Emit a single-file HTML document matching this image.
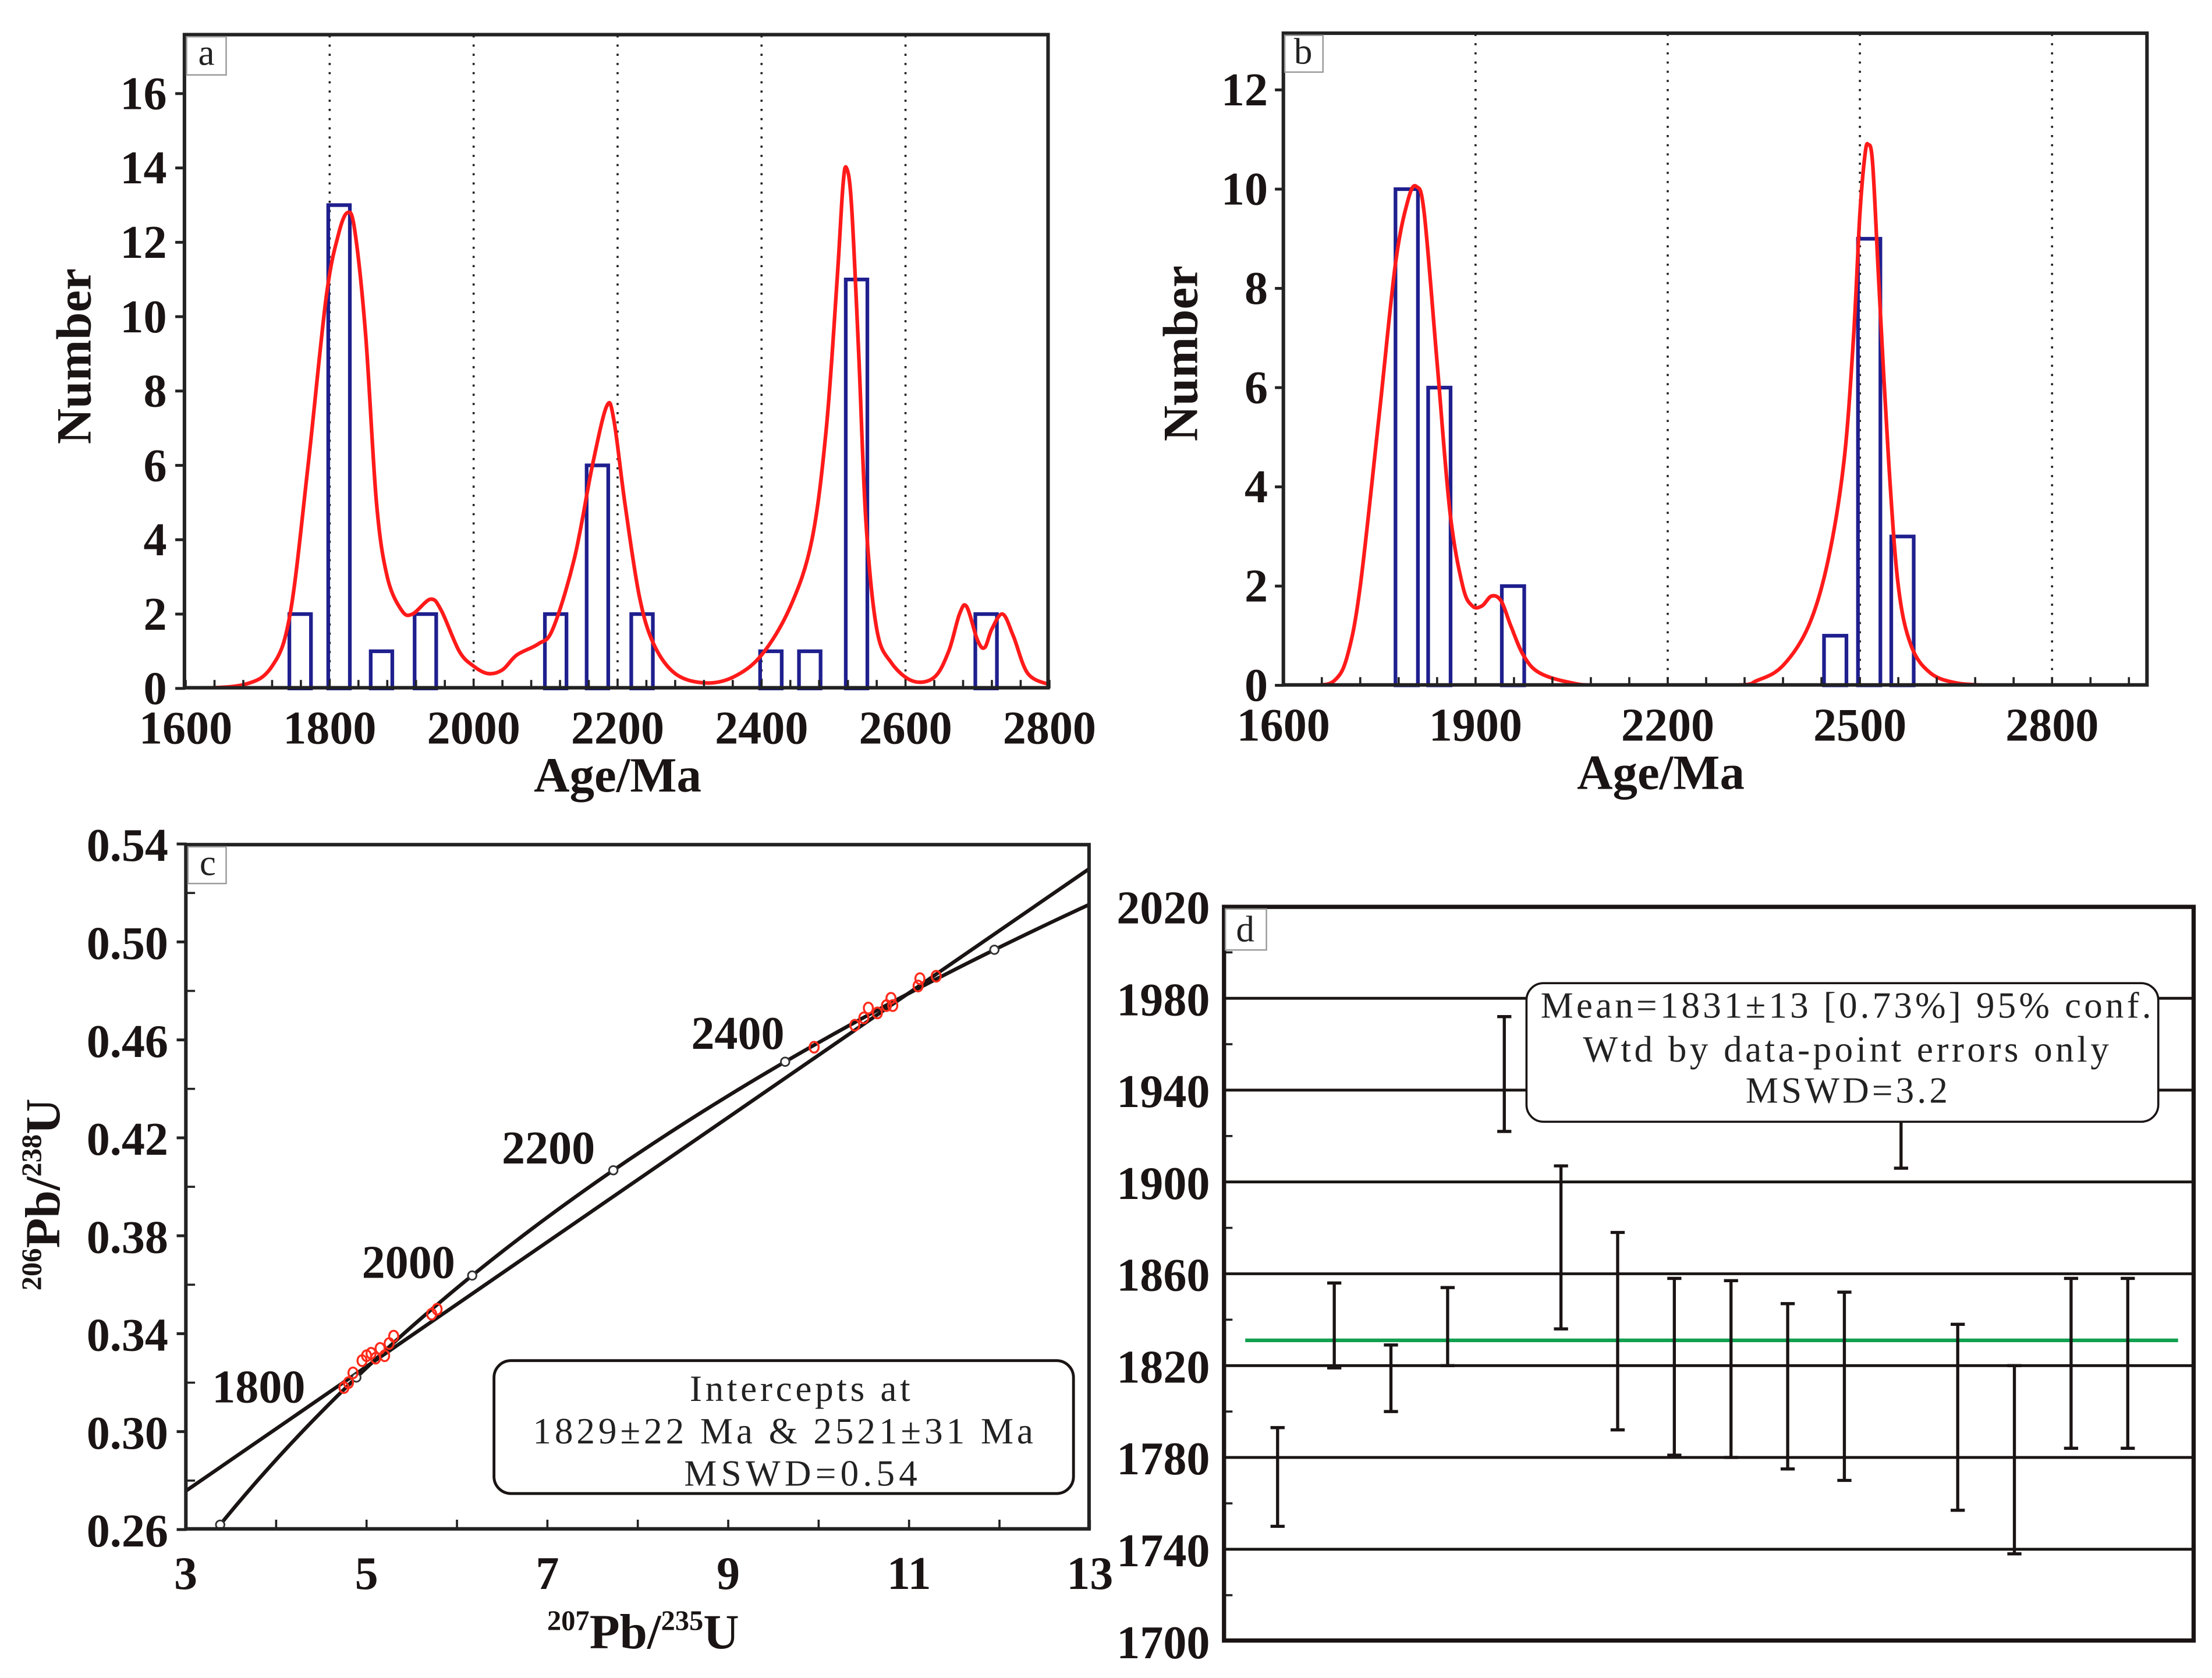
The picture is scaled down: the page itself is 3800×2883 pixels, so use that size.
<!DOCTYPE html>
<html><head><meta charset="utf-8">
<style>
html,body{margin:0;padding:0;background:#fff;}
svg{display:block;}
text{font-family:"Liberation Serif",serif;}
.tl{font-weight:bold;font-size:33px;fill:#1a1414;}
.at{font-weight:bold;font-size:35px;fill:#1a1414;}
.bx{font-size:26px;fill:#222;}
</style></head>
<body>
<svg id="fig" width="3800" height="2883" viewBox="0 0 1565 1187" preserveAspectRatio="none" xmlns="http://www.w3.org/2000/svg">
<defs>
<clipPath id="clipA"><rect x="131" y="24" width="611" height="463"/></clipPath>
<clipPath id="clipB"><rect x="908" y="23" width="611" height="462"/></clipPath>
<clipPath id="clipC"><rect x="131" y="597" width="640" height="485"/></clipPath>
</defs>
</svg>
<script>
// ---------- Panel a data ----------
const aBinStarts = [1744,1798,1857,1918,2099,2157,2219,2398,2452,2517,2697];
const aBinCounts = [2,13,1,2,2,6,2,1,1,11,2];
const aCurveAges = [1600,1680,1720,1745,1770,1795,1812,1825,1835,1850,1865,1880,1900,1915,1940,1955,1980,2000,2020,2040,2060,2090,2110,2140,2165,2185,2195,2210,2230,2250,2280,2320,2360,2400,2440,2470,2490,2505,2513,2518,2525,2535,2545,2560,2580,2610,2640,2660,2675,2685,2700,2710,2720,2735,2750,2770,2800];
const aCurveVals = [0,0.1,0.6,2,6,10.5,12.2,12.8,12.3,9.5,5,3,2.1,2.0,2.4,2.1,1.0,0.6,0.4,0.5,0.9,1.2,1.6,3.5,6,7.6,7.2,5,2.5,1.2,0.4,0.15,0.3,0.9,2.2,4,7,11,13.5,14,13,9,4.5,1.6,0.7,0.2,0.3,1.0,2.0,2.2,1.3,1.1,1.6,2.0,1.4,0.4,0.1];
const aYTicks = [0,2,4,6,8,10,12,14,16];
const aXTicks = [1600,1800,2000,2200,2400,2600,2800];
const aDotted = [1800,2000,2200,2400,2600];
// ---------- Panel b data ----------
const bBinStarts = [1775,1826,1941,2444,2497,2549];
const bBinCounts = [10,6,2,1,9,3];
const bCurveAges = [1600,1650,1680,1700,1720,1750,1775,1795,1808,1820,1840,1860,1880,1895,1910,1925,1940,1955,1975,2000,2050,2100,2300,2340,2380,2420,2450,2475,2490,2500,2508,2513,2520,2530,2545,2560,2580,2610,2650,2700];
const bCurveVals = [0,0,0.1,0.6,2,5.5,8.5,9.8,10.05,9.5,6.5,3.5,2.0,1.6,1.6,1.8,1.7,1.2,0.6,0.25,0.05,0,0,0.1,0.4,1.2,2.5,4.5,7,9.5,10.7,10.9,10.5,8,4.5,2,0.8,0.25,0.05,0];
const bYTicks = [0,2,4,6,8,10,12];
const bXTicks = [1600,1900,2200,2500,2800];
const bDotted = [1900,2200,2500,2800];
// ---------- Panel c data ----------
const cPointsX = [4.75,4.8,4.85,4.95,5.0,5.05,5.1,5.15,5.2,5.25,5.3,5.72,5.78,9.95,10.4,10.5,10.55,10.65,10.75,10.8,10.82,11.1,11.12,11.3];
const cPointsY = [0.318,0.320,0.324,0.329,0.331,0.332,0.330,0.334,0.331,0.336,0.339,0.348,0.350,0.457,0.466,0.469,0.473,0.471,0.474,0.477,0.474,0.482,0.485,0.486];
const cInterceptAges = [1829,2521];
const cMarkerAges = [1500,1800,2000,2200,2400,2600];
const cLabelAges = ["1800","2000","2200","2400"];
const cYTicks = ["0.26","0.30","0.34","0.38","0.42","0.46","0.50","0.54"];
const cXTicks = [3,5,7,9,11,13];
// ---------- Panel d data ----------
const dLow  = [1750,1819,1800,1820,1922,1836,1792,1781,1780,1775,1770,1906,1757,1738,1784,1784];
const dHigh = [1793,1856,1829,1854,1972,1907,1878,1858,1857,1847,1852,1960,1838,1820,1858,1858];
const dMean = [1831];
const dYTicks = [1700,1740,1780,1820,1860,1900,1940,1980,2020];

const NS = "http://www.w3.org/2000/svg";
const svg = document.getElementById('fig');
function el(tag, attrs, parent){
  const e = document.createElementNS(NS, tag);
  for (const k in attrs) e.setAttribute(k, attrs[k]);
  (parent||svg).appendChild(e);
  return e;
}
function txt(s, x, y, cls, anchor, parent){
  const t = el('text', {x:x, y:y, class:cls, 'text-anchor':anchor||'middle'}, parent);
  t.textContent = s;
  return t;
}
function smooth(pts){
  let d = "M" + pts[0][0] + "," + pts[0][1];
  for (let i=0;i<pts.length-1;i++){
    const p0=pts[Math.max(0,i-1)], p1=pts[i], p2=pts[i+1], p3=pts[Math.min(pts.length-1,i+2)];
    const c1x=p1[0]+(p2[0]-p0[0])/6, c1y=p1[1]+(p2[1]-p0[1])/6;
    const c2x=p2[0]-(p3[0]-p1[0])/6, c2y=p2[1]-(p3[1]-p1[1])/6;
    d += " C"+c1x+","+c1y+" "+c2x+","+c2y+" "+p2[0]+","+p2[1];
  }
  return d;
}

// ===== Panel a =====
const xa = v => 131.4 + (v-1600)/1200*611.1;
const ya = v => 487 - v*26.3;
const gA = el('g', {});


aDotted.forEach(v=>{
  const l = el('line',{x1:xa(v),x2:xa(v),y1:25,y2:486,stroke:'#222','stroke-width':1.5,'stroke-dasharray':'1.5,5'},gA);
  
  
});
aBinStarts.forEach((s,i)=>{
  const r = el('rect',{x:xa(s),y:ya(aBinCounts[i]),width:xa(s+30)-xa(s),height:ya(0)-ya(aBinCounts[i]),fill:'none',stroke:'#1f1f8f','stroke-width':2.6},gA);
  
  
});
const pa = el('path',{d:smooth(aCurveAges.map((a,i)=>[xa(a),ya(aCurveVals[i])])),fill:'none',stroke:'#ff1a1a','stroke-width':2.6,'clip-path':'url(#clipA)'},gA);


el('rect',{x:130.5,y:24.5,width:611,height:462,fill:'none',stroke:'#222','stroke-width':2.5},gA);
for(let v=1600; v<=2800; v+=40){ el('line',{x1:xa(v),x2:xa(v),y1:487,y2:481,stroke:'#222','stroke-width':1.5},gA); }
aYTicks.forEach(v=>{
  el('line',{x1:124,x2:131,y1:ya(v),y2:ya(v),stroke:'#222','stroke-width':2},gA);
  const t = txt(String(v),118,ya(v)+11,'tl','end',gA);
  
  
});
aXTicks.forEach(v=>{
  const t = txt(String(v),xa(v),526,'tl','middle',gA);
  
  
});
el('rect',{x:132,y:26,width:28,height:27,fill:'#fff',stroke:'#999','stroke-width':1},gA);
txt('a',146,46,'bx','middle',gA);
const ta1 = txt('Age/Ma',437,560,'at','middle',gA);


const ta2 = txt('Number',0,0,'at','middle',gA);
ta2.setAttribute('transform','translate(64,252) rotate(-90)');



// ===== Panel b =====
const xb = v => 908 + (v-1600)*0.4532;
const yb = v => 484.8 - v*35.1;
const gB = el('g', {});


bDotted.forEach(v=>{
  const l = el('line',{x1:xb(v),x2:xb(v),y1:24,y2:484,stroke:'#222','stroke-width':1.5,'stroke-dasharray':'1.5,5'},gB);
  
  
});
bBinStarts.forEach((s,i)=>{
  const r = el('rect',{x:xb(s),y:yb(bBinCounts[i]),width:xb(s+35)-xb(s),height:yb(0)-yb(bBinCounts[i]),fill:'none',stroke:'#1f1f8f','stroke-width':2.6},gB);
  
  
});
const pb = el('path',{d:smooth(bCurveAges.map((a,i)=>[xb(a),yb(bCurveVals[i])])),fill:'none',stroke:'#ff1a1a','stroke-width':2.6,'clip-path':'url(#clipB)'},gB);


el('rect',{x:908,y:23.5,width:611,height:461,fill:'none',stroke:'#222','stroke-width':2.5},gB);
for(let v=1600; v<=2920; v+=60){ el('line',{x1:xb(v),x2:xb(v),y1:485,y2:479,stroke:'#222','stroke-width':1.5},gB); }
bYTicks.forEach(v=>{
  el('line',{x1:902,x2:908,y1:yb(v),y2:yb(v),stroke:'#222','stroke-width':2},gB);
  const t = txt(String(v),897,yb(v)+11,'tl','end',gB);
  
  
});
bXTicks.forEach(v=>{
  const t = txt(String(v),xb(v),524,'tl','middle',gB);
  
  
});
el('rect',{x:909,y:25,width:27,height:26,fill:'#fff',stroke:'#999','stroke-width':1},gB);
txt('b',922,45,'bx','middle',gB);
const tb1 = txt('Age/Ma',1175,558,'at','middle',gB);


const tb2 = txt('Number',0,0,'at','middle',gB);
tb2.setAttribute('transform','translate(847,250) rotate(-90)');



// ===== Panel c =====
const xc = v => 131.4 + (v-3)*63.97;
const yc = v => 1082 - (v-0.26)*1732;
const L238 = 1.55125e-4, L235 = 9.8485e-4; // per Ma
const r206 = t => Math.exp(L238*t)-1;
const r207 = t => Math.exp(L235*t)-1;
const gC = el('g', {});


const conc = [];
for(let t=1450; t<=2750; t+=10){ conc.push([xc(r207(t)), yc(r206(t))]); }
const pc = el('path',{d:smooth(conc),fill:'none',stroke:'#1a1414','stroke-width':2.6,'clip-path':'url(#clipC)'},gC);


const ix1=r207(cInterceptAges[0]), iy1=r206(cInterceptAges[0]), ix2=r207(cInterceptAges[1]), iy2=r206(cInterceptAges[1]);
const slope=(iy2-iy1)/(ix2-ix1);
const disc = el('line',{x1:xc(3),y1:yc(iy1+(3-ix1)*slope),x2:xc(13),y2:yc(iy1+(13-ix1)*slope),stroke:'#1a1414','stroke-width':2.6,'clip-path':'url(#clipC)'},gC);


cMarkerAges.forEach(t=>{
  const m = el('circle',{cx:xc(r207(t)),cy:yc(r206(t)),r:3,fill:'#fff',stroke:'#333','stroke-width':1.2,'clip-path':'url(#clipC)'},gC);
  
  
});
cPointsX.forEach((x,i)=>{
  const p = el('ellipse',{cx:xc(x),cy:yc(cPointsY[i]),rx:3.2,ry:3.8,fill:'none',stroke:'#ff2a1a','stroke-width':1.4},gC);
  
  
});
const cLabPos = [[183,992],[289,904],[388,823],[522,742]];
cLabelAges.forEach((s,i)=>{
  const t = txt(s,cLabPos[i][0],cLabPos[i][1],'tl','middle',gC);
  
  
});
el('rect',{x:131.5,y:597.5,width:639,height:484,fill:'none',stroke:'#222','stroke-width':2.5},gC);
for(let v=0.28; v<0.54; v+=0.04){ el('line',{x1:132,x2:138,y1:yc(v),y2:yc(v),stroke:'#222','stroke-width':1.5},gC); }
cYTicks.forEach(s=>{
  const v=parseFloat(s);
  el('line',{x1:125,x2:132,y1:yc(v),y2:yc(v),stroke:'#222','stroke-width':2},gC);
  const t = txt(s,119,yc(v)+12,'tl','end',gC);
  
  
});
for(let v=3; v<=13; v+=1){ el('line',{x1:xc(v),x2:xc(v),y1:1082,y2:1075,stroke:'#222','stroke-width':1.5},gC); }
cXTicks.forEach(v=>{
  const t = txt(String(v),xc(v),1124,'tl','middle',gC);
  
  
});
el('rect',{x:133,y:599,width:27,height:26,fill:'#fff',stroke:'#999','stroke-width':1},gC);
txt('c',147,619,'bx','middle',gC);
const lc = el('g',{},gC);


el('rect',{x:349.5,y:962.5,width:410,height:94,rx:12,fill:'#fff',stroke:'#1a1414','stroke-width':2},lc);
el('text',{x:488,y:991,class:'bx',textLength:156,lengthAdjust:'spacing'},lc).textContent='Intercepts at';
el('text',{x:377,y:1021,class:'bx',textLength:354,lengthAdjust:'spacing'},lc).textContent='1829\u00b122 Ma  & 2521\u00b131 Ma';
el('text',{x:484,y:1051,class:'bx',textLength:165,lengthAdjust:'spacing'},lc).textContent='MSWD=0.54';
const tcx = el('text',{x:455,y:1166,class:'at','text-anchor':'middle'},gC);
tcx.innerHTML = '<tspan font-size="20" dy="-13">207</tspan><tspan dy="13">Pb/</tspan><tspan font-size="20" dy="-13">235</tspan><tspan dy="13">U</tspan>';


const tcy = el('text',{x:0,y:0,class:'at','text-anchor':'middle'},gC);
tcy.innerHTML = '<tspan font-size="20" dy="-13">206</tspan><tspan dy="13">Pb/</tspan><tspan font-size="20" dy="-13">238</tspan><tspan dy="13">U</tspan>';
tcy.setAttribute('transform','translate(42,845) rotate(-90)');



// ===== Panel d =====
const yd = v => 1160.9 - (v-1700)*1.624;
const xd = i => 903.9 + i*40.1;
const gD = el('g', {});


dYTicks.forEach(v=>{
  if(v>1700 && v<2020){
    const g = el('line',{x1:866,x2:1552,y1:yd(v),y2:yd(v),stroke:'#1a1414','stroke-width':2},gD);
    
    
  }
  const t = txt(String(v),856,yd(v)+12,'tl','end',gD);
  
  
});
for(let v=1720; v<2020; v+=40){ el('line',{x1:866,x2:872,y1:yd(v),y2:yd(v),stroke:'#222','stroke-width':1.5},gD); }
const ml = el('line',{x1:881,x2:1541,y1:yd(dMean[0]),y2:yd(dMean[0]),stroke:'#10a050','stroke-width':2.6},gD);


dLow.forEach((lo,i)=>{
  const g = el('g',{},gD);
  
  
  const x=xd(i);
  el('line',{x1:x,x2:x,y1:yd(lo),y2:yd(dHigh[i]),stroke:'#1a1414','stroke-width':2.2},g);
  el('line',{x1:x-5,x2:x+5,y1:yd(lo),y2:yd(lo),stroke:'#1a1414','stroke-width':2.2},g);
  el('line',{x1:x-5,x2:x+5,y1:yd(dHigh[i]),y2:yd(dHigh[i]),stroke:'#1a1414','stroke-width':2.2},g);
});
const ld = el('g',{},gD);


el('rect',{x:1080,y:695.5,width:447,height:98,rx:12,fill:'#fff',stroke:'#1a1414','stroke-width':1.5},ld);
el('text',{x:1090,y:720,class:'bx',textLength:432,lengthAdjust:'spacing'},ld).textContent='Mean=1831\u00b113 [0.73%]  95%  conf.';
el('text',{x:1120,y:751,class:'bx',textLength:372,lengthAdjust:'spacing'},ld).textContent='Wtd   by  data-point errors only';
el('text',{x:1235,y:780,class:'bx',textLength:143,lengthAdjust:'spacing'},ld).textContent='MSWD=3.2';
el('rect',{x:866,y:641.5,width:686,height:519,fill:'none',stroke:'#1a1414','stroke-width':3},gD);
el('rect',{x:867,y:643,width:29,height:29,fill:'#fff',stroke:'#999','stroke-width':1},gD);
txt('d',881,666,'bx','middle',gD);
</script>
</body></html>
